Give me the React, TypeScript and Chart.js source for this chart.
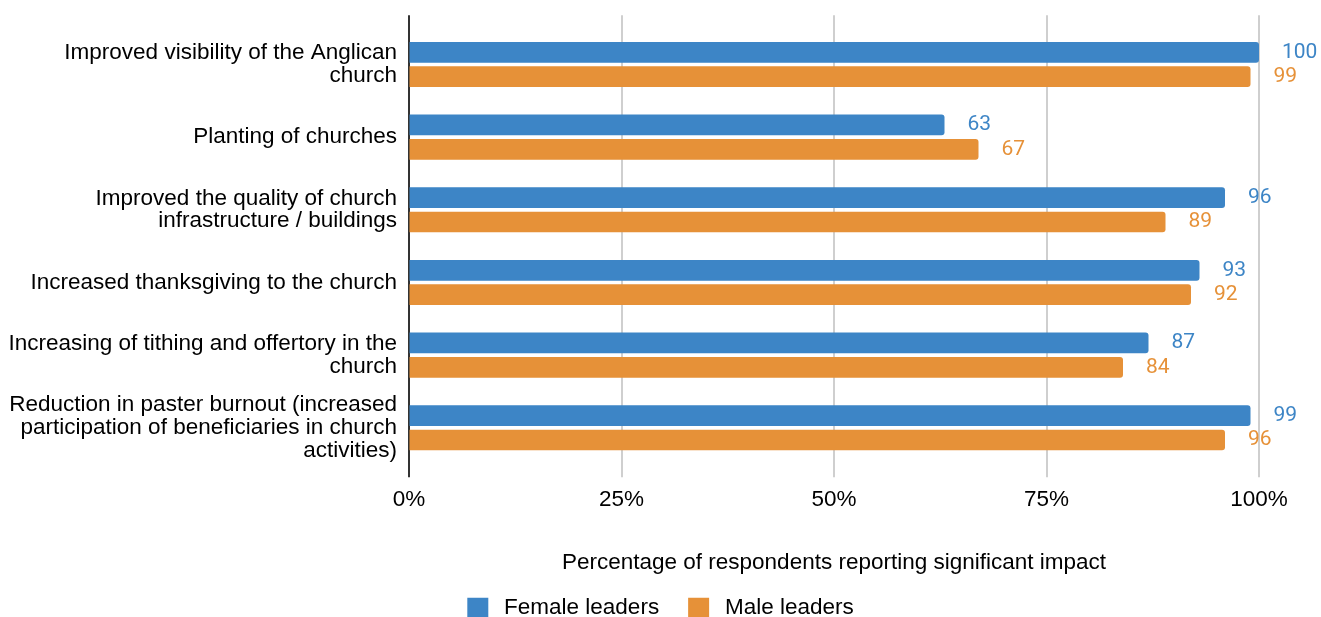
import React, { useEffect, useRef } from 'react';
import { Chart, registerables } from 'chart.js';

Chart.register(...registerables);

const categories: string[][] = [
  ['Improved visibility of the Anglican', 'church'],
  ['Planting of churches'],
  ['Improved the quality of church', 'infrastructure / buildings'],
  ['Increased thanksgiving to the church'],
  ['Increasing of tithing and offertory in the', 'church'],
  ['Reduction in paster burnout (increased', 'participation of beneficiaries in church', 'activities)'],
];
const femaleValues: number[] = [100, 63, 96, 93, 87, 99];
const maleValues: number[] = [99, 67, 89, 92, 84, 96];
const xTickValues: number[] = [0, 25, 50, 75, 100];
const seriesNames: string[] = ['Female leaders', 'Male leaders'];
const seriesColors: string[] = ['#3d85c6', '#e69138'];
const xAxisTitle = 'Percentage of respondents reporting significant impact';

const FONT = "'Liberation Sans', Arial, sans-serif";
const TEXT = '#000000';

const gridPlugin = {
  id: 'gridExt',
  afterLayout(chart: any) {
    // centre the legend on the whole canvas
    if (chart.legend) {
      chart.legend.left = chart.width - chart.legend.right;
    }
  },
  beforeDatasetsDraw(chart: any) {
    const { ctx, chartArea, scales } = chart;
    const x = scales.x;
    const top = chartArea.top - 13;
    const bottom = chartArea.bottom + 13;
    ctx.save();
    x.ticks.forEach((t: any) => {
      if (t.value === 0) return;
      const px = Math.round(x.getPixelForValue(t.value));
      ctx.strokeStyle = '#cfcfcf';
      ctx.lineWidth = 2;
      ctx.beginPath();
      ctx.moveTo(px, top);
      ctx.lineTo(px, bottom);
      ctx.stroke();
    });
    const p0 = Math.round(x.getPixelForValue(0));
    ctx.strokeStyle = '#333333';
    ctx.lineWidth = 2;
    ctx.beginPath();
    ctx.moveTo(p0, top);
    ctx.lineTo(p0, bottom);
    ctx.stroke();
    ctx.restore();
  },
};

const valueLabelPlugin = {
  id: 'valueLabels',
  afterDatasetsDraw(chart: any) {
    const { ctx } = chart;
    ctx.save();
    ctx.font = "21px Roboto, 'Open Sans', sans-serif";
    ctx.textAlign = 'left';
    ctx.textBaseline = 'middle';
    chart.data.datasets.forEach((ds: any, i: number) => {
      const meta = chart.getDatasetMeta(i);
      ctx.fillStyle = ds.backgroundColor;
      meta.data.forEach((el: any, j: number) => {
        ctx.fillText(String(ds.data[j]), el.x + 23, el.y);
      });
    });
    ctx.restore();
  },
};

export default function App() {
  const canvasRef = useRef<HTMLCanvasElement | null>(null);

  useEffect(() => {
    if (!canvasRef.current) return;
    const chart = new Chart(canvasRef.current, {
      type: 'bar',
      data: {
        labels: categories,
        datasets: [
          {
            label: seriesNames[0],
            data: femaleValues,
            backgroundColor: seriesColors[0],
            borderRadius: 3,
            borderSkipped: 'start',
            categoryPercentage: 0.671,
            barPercentage: 0.85,
          },
          {
            label: seriesNames[1],
            data: maleValues,
            backgroundColor: seriesColors[1],
            borderRadius: 3,
            borderSkipped: 'start',
            categoryPercentage: 0.671,
            barPercentage: 0.85,
          },
        ],
      },
      options: {
        indexAxis: 'y',
        responsive: false,
        animation: false,
        devicePixelRatio: 1,
        layout: { padding: { top: 28.15, right: 62, left: 0, bottom: 0 } },
        scales: {
          x: {
            type: 'linear',
            min: 0,
            max: 100,
            afterBuildTicks: (scale: any) => {
              scale.ticks = xTickValues.map((v) => ({ value: v }));
            },
            ticks: {
              callback: (v: any) => v + '%',
              font: { family: FONT, size: 22.5, lineHeight: 1.2 },
              color: TEXT,
              padding: 9,
              maxRotation: 0,
            },
            grid: {
              display: true,
              drawOnChartArea: false,
              drawTicks: true,
              tickLength: 13,
              color: 'rgba(0,0,0,0)',
            },
            border: { display: false },
            title: {
              display: true,
              text: xAxisTitle,
              color: TEXT,
              font: { family: FONT, size: 22.5, lineHeight: 0.5 },
              padding: { top: 34.6, bottom: 0 },
            },
          },
          y: {
            type: 'category',
            offset: true,
            afterFit: (scale: any) => {
              scale.width = 409;
              scale.paddingTop = 0;
              scale.paddingBottom = 0;
            },
            ticks: {
              font: { family: FONT, size: 22.5, lineHeight: 1.02 },
              color: TEXT,
              padding: 12,
              autoSkip: false,
            },
            grid: { display: false, drawTicks: false },
            border: { display: false },
          },
        },
        plugins: {
          legend: {
            position: 'bottom',
            maxHeight: 60,
            labels: {
              boxWidth: 21,
              boxHeight: 21,
              padding: 29,
              color: TEXT,
              font: { family: FONT, size: 22.5 },
              generateLabels: (c: any) =>
                Chart.defaults.plugins.legend.labels
                  .generateLabels(c)
                  .map((it: any) => ({ ...it, text: '\u2009' + it.text, lineWidth: 0 })),
            },
          },
          tooltip: { enabled: false },
        },
      } as any,
      plugins: [gridPlugin, valueLabelPlugin],
    });
    return () => chart.destroy();
  }, []);

  return (
    <div style={{ position: 'fixed', left: 0, top: 0, width: 1321, height: 628, background: '#ffffff', overflow: 'hidden' }}>
      <canvas ref={canvasRef} width={1321} height={628} style={{ display: 'block' }} />
    </div>
  );
}
